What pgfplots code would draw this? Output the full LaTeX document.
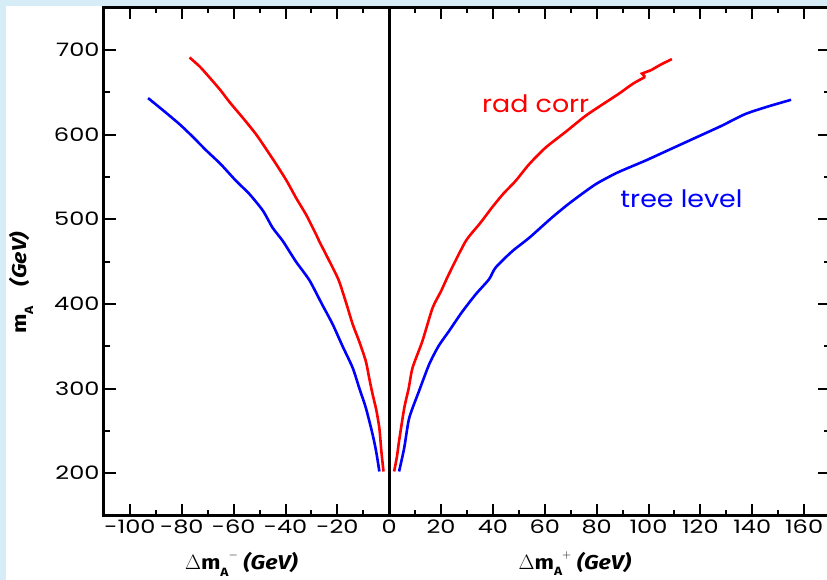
\documentclass[border=0pt]{standalone}
\usepackage{fontspec}
\usepackage{pgfplots}
\pgfplotsset{compat=1.18}
\setmainfont{Poppins}
\newfontfamily\tickfont[FakeStretch=1.3]{Poppins}
\newfontfamily\txtfont[FakeStretch=1.12]{Poppins}
\newfontfamily\labfont[FakeStretch=1.15]{Fira Sans}
\definecolor{bgblue}{HTML}{D6ECF7}
\newcommand{\lab}[2]{{#1\raisebox{-0.65ex}{\fontsize{12}{13}\selectfont A}\raisebox{1.0ex}{\fontsize{12}{13}\selectfont #2}\;\textit{(GeV)}}}
\begin{document}
\begin{tikzpicture}
\fill[bgblue] (-104pt,-64pt) rectangle (723pt,516pt);
\fill[white] (-98pt,-64pt) rectangle (723pt,509.5pt);
\begin{axis}[
  at={(0pt,0pt)}, anchor=south west,
  scale only axis, width=726pt, height=508pt,
  xmin=-110, xmax=170, ymin=150, ymax=750,
  xtick={-100,-80,...,160}, ytick={200,300,...,700},
  minor x tick num=1, minor y tick num=1,
  major tick length=12pt, minor tick length=6pt,
  every tick/.style={black, line width=2pt},
  axis line style={line width=3pt},
  tick align=inside,
  /pgf/number format/assume math mode=true,
  ticklabel style={font=\tickfont\fontsize{18.5}{20}\selectfont},
  xticklabel style={yshift=-1pt},
  yticklabel style={xshift=-1pt},
  clip=false,
]
\draw[black, line width=3pt] (axis cs:0,150) -- (axis cs:0,750);
% blue left
\addplot[blue, line width=2.6pt, smooth, tension=0.4] coordinates {
(-3.8,202) (-5,225) (-6.4,245.7) (-9.0,277) (-11.5,300) (-14.1,324.5) (-18,350)
(-21.8,375.8) (-26,400) (-30.8,428) (-36,450) (-41,474) (-45,490) (-48.7,510)
(-54,530) (-59,545) (-65,565) (-70.5,581) (-76,598) (-80.8,612) (-87,628) (-93,643)
};
% red left
\addplot[red, line width=2.6pt, smooth, tension=0.4] coordinates {
(-2.2,202) (-3.0,225) (-3.8,253) (-5,275) (-6.4,293) (-7.7,312) (-9.0,332)
(-11.5,355) (-14.1,376) (-16.5,400) (-19.5,428) (-23,450) (-27,474) (-28.2,482)
(-32,505) (-35.9,525) (-39.5,545) (-43.6,565) (-47.5,583) (-51.3,600) (-56,618)
(-61.5,638) (-65,652) (-69.2,667) (-73,680) (-77,691)
};
% red right
\addplot[red, line width=2.6pt, smooth, tension=0.4] coordinates {
(1.9,202) (3.0,220) (3.8,238) (5.8,277) (7.5,300) (9.0,324.5) (12.8,356)
(16.7,395) (20,415) (23,435) (29.5,474) (35,495) (39.7,514) (44,530) (48.7,545)
(54,565) (60.3,584.5) (68,603) (75.7,622) (82,635) (88.5,648) (94,660) (98.7,668)
};
\addplot[red, line width=2.6pt] coordinates {(98.7,668) (97.5,672) (101,676)};
\addplot[red, line width=2.6pt, smooth] coordinates {(101,676) (105,683) (109,689)};
% blue right
\addplot[blue, line width=2.6pt, smooth, tension=0.4] coordinates {
(3.8,202) (5.8,230) (7.7,265) (11.5,297) (15.4,328.5) (19,350) (23.1,368)
(28,390) (33.3,411) (38.5,429) (41,442.7) (47.4,462) (54,478) (62.8,502)
(70,520) (79.5,541) (88,555) (98.7,569) (108,582) (118,596) (128,610)
(137.2,624) (146,633) (155,641)
};
\node[red, font=\txtfont\fontsize{24}{26}\selectfont] at (axis cs:56.5,636) {rad corr};
\node[blue, font=\txtfont\fontsize{24}{26}\selectfont] at (axis cs:112.7,524) {tree level};
\node[font=\labfont\bfseries\fontsize{20}{22}\selectfont] at (axis cs:-57,93)
  {\lab{$\Delta$m}{$-$}};
\node[font=\labfont\bfseries\fontsize{20}{22}\selectfont] at (axis cs:71.6,93)
  {\lab{$\Delta$m}{$+$}};
\node[font=\labfont\bfseries\fontsize{20}{22}\selectfont, rotate=90] at (axis cs:-142,425)
  {m\raisebox{-0.65ex}{\fontsize{12}{13}\selectfont A}\quad\textit{(GeV)}};
\end{axis}
\pgfresetboundingbox
\path[use as bounding box] (-104pt,-63.5pt) rectangle (723pt,515.5pt);
\end{tikzpicture}
\end{document}
